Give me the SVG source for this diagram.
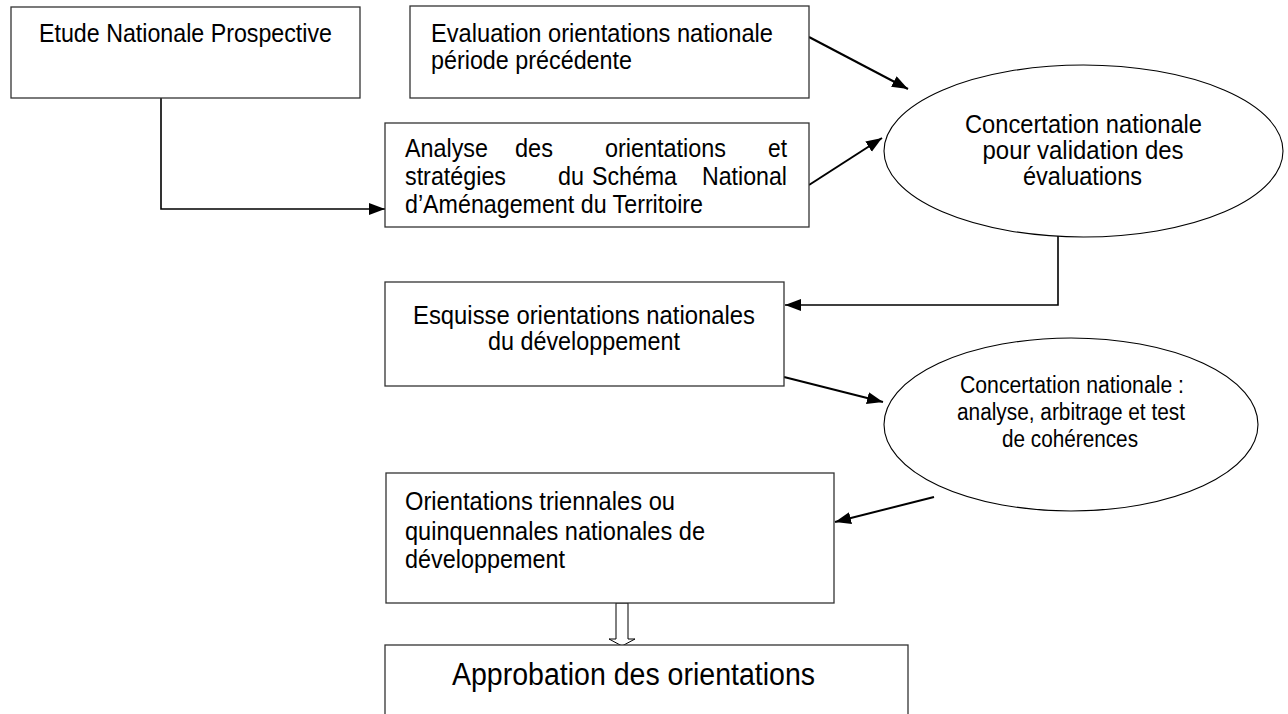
<svg xmlns="http://www.w3.org/2000/svg" width="1288" height="714" viewBox="0 0 1288 714">
<style>
  .box { fill: #fff; stroke: #333; stroke-width: 1.3; }
  .ell { fill: #fff; stroke: #000; stroke-width: 1.1; }
  .t { font-family: "Liberation Sans", Arial, sans-serif; font-size: 25px; fill: #000; }
  .t2 { font-family: "Liberation Sans", Arial, sans-serif; font-size: 23px; fill: #000; }
  .t3 { font-family: "Liberation Sans", Arial, sans-serif; font-size: 31px; fill: #000; }
  .c { text-anchor: middle; }
  .e { text-anchor: end; }
  .arr { fill: none; stroke: #000; stroke-width: 2; marker-end: url(#ah); }
  .elb { fill: none; stroke: #000; stroke-width: 1.6; marker-end: url(#ah); }
</style>
<defs>
  <marker id="ah" markerUnits="userSpaceOnUse" markerWidth="17" markerHeight="13" refX="16" refY="6" orient="auto">
    <path d="M0,0 L16,6 L0,12 z" fill="#000"/>
  </marker>
  <clipPath id="clipAnalyse"><rect x="385" y="123" width="424" height="97"/></clipPath>
</defs>
<rect width="1288" height="714" fill="#fff"/>

<g id="connectors">
  <polyline class="elb" points="161,98 161,209 385,209"/>
  <line class="arr" x1="809" y1="37" x2="908" y2="89"/>
  <line class="arr" x1="809" y1="185" x2="882" y2="138"/>
  <polyline class="elb" points="1058,219 1058,305 785,305"/>
  <line class="arr" x1="784" y1="377" x2="883" y2="402"/>
  <line class="arr" x1="934" y1="497" x2="835" y2="522"/>
  <polygon points="616,603 628,603 628,639 635,639 622,646 609,639 616,639" fill="#fff" stroke="#000" stroke-width="1"/>
</g>

<g id="etude">
  <rect class="box" x="11" y="7" width="349" height="91"/>
  <text class="t c" x="185.5" y="42" textLength="293" lengthAdjust="spacingAndGlyphs">Etude Nationale Prospective</text>
</g>

<g id="evaluation">
  <rect class="box" x="410" y="6" width="399" height="92"/>
  <text class="t" x="431" y="42" textLength="342" lengthAdjust="spacingAndGlyphs">Evaluation orientations nationale</text>
  <text class="t" x="431" y="69" textLength="201" lengthAdjust="spacingAndGlyphs">période précédente</text>
</g>

<g id="analyse">
  <rect class="box" x="385" y="123" width="424" height="104"/>
  <g clip-path="url(#clipAnalyse)">
    <text class="t" x="405" y="157" textLength="83" lengthAdjust="spacingAndGlyphs">Analyse</text>
    <text class="t" x="515" y="157" textLength="38" lengthAdjust="spacingAndGlyphs">des</text>
    <text class="t" x="605" y="157" textLength="121" lengthAdjust="spacingAndGlyphs">orientations</text>
    <text class="t e" x="787" y="157" textLength="19" lengthAdjust="spacingAndGlyphs">et</text>
    <text class="t" x="405" y="185" textLength="101" lengthAdjust="spacingAndGlyphs">stratégies</text>
    <text class="t" x="558" y="185" textLength="26" lengthAdjust="spacingAndGlyphs">du</text>
    <text class="t" x="592" y="185" textLength="85" lengthAdjust="spacingAndGlyphs">Schéma</text>
    <text class="t e" x="787" y="185" textLength="85" lengthAdjust="spacingAndGlyphs">National</text>
    <text class="t" x="405" y="213" textLength="298" lengthAdjust="spacingAndGlyphs">d’Aménagement du Territoire</text>
  </g>
</g>

<g id="concertation1">
  <ellipse class="ell" cx="1083.5" cy="151" rx="199.5" ry="86"/>
  <text class="t c" x="1083.5" y="133" textLength="237" lengthAdjust="spacingAndGlyphs">Concertation nationale</text>
  <text class="t c" x="1083" y="159" textLength="201" lengthAdjust="spacingAndGlyphs">pour validation des</text>
  <text class="t c" x="1082.5" y="185" textLength="119" lengthAdjust="spacingAndGlyphs">évaluations</text>
</g>

<g id="esquisse">
  <rect class="box" x="385" y="282" width="399" height="104"/>
  <text class="t c" x="584" y="324" textLength="342" lengthAdjust="spacingAndGlyphs">Esquisse orientations nationales</text>
  <text class="t c" x="584" y="350" textLength="192" lengthAdjust="spacingAndGlyphs">du développement</text>
</g>

<g id="concertation2">
  <ellipse class="ell" cx="1071" cy="424.5" rx="187" ry="86.5"/>
  <text class="t2 c" x="1072" y="393" textLength="224" lengthAdjust="spacingAndGlyphs">Concertation nationale :</text>
  <text class="t2 c" x="1071" y="420" textLength="228" lengthAdjust="spacingAndGlyphs">analyse, arbitrage et test</text>
  <text class="t2 c" x="1070" y="447" textLength="136" lengthAdjust="spacingAndGlyphs">de cohérences</text>
</g>

<g id="orientations">
  <rect class="box" x="386" y="473" width="448" height="130"/>
  <text class="t" x="405" y="510" textLength="270" lengthAdjust="spacingAndGlyphs">Orientations triennales ou</text>
  <text class="t" x="405" y="540" textLength="300" lengthAdjust="spacingAndGlyphs">quinquennales nationales de</text>
  <text class="t" x="405" y="568" textLength="160" lengthAdjust="spacingAndGlyphs">développement</text>
</g>

<g id="approbation">
  <rect class="box" x="385" y="645" width="523" height="90"/>
  <text class="t3 c" x="633.5" y="685" textLength="363" lengthAdjust="spacingAndGlyphs">Approbation des orientations</text>
</g>
</svg>
